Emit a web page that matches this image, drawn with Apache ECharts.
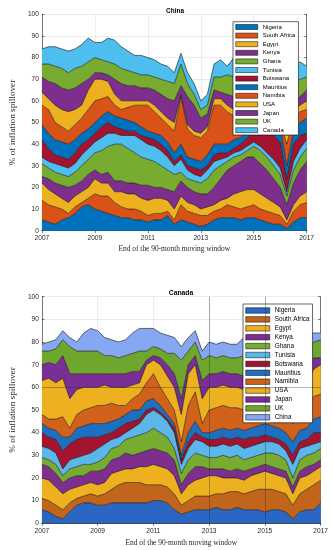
<!DOCTYPE html>
<html><head><meta charset="utf-8">
<script src="https://cdn.jsdelivr.net/npm/echarts@6/dist/echarts.min.js"></script>
<style>html,body{margin:0;padding:0;background:#fff}#c{width:333px;height:550px}</style>
</head><body><div id="c"></div>
<script>
// ---- data (quarterly end-points of the 90-month moving window) ----
const periods = [2007,2007.25,2007.5,2007.75,2008,2008.25,2008.5,2008.75,2009,2009.25,2009.5,2009.75,2010,2010.25,2010.5,2010.75,2011,2011.25,2011.5,2011.75,2012,2012.25,2012.5,2012.75,2013,2013.25,2013.5,2013.75,2014,2014.25,2014.5,2014.75,2015,2015.25,2015.5,2015.75,2016,2016.25,2016.5,2016.75,2017];
const xTickLabels = ['2007','2009','2011','2013','2015','2017'];
const yTickLabels = ['0','10','20','30','40','50','60','70','80','90','100'];

const chinaNames = ['Nigeria','South Africa','Egypt','Kenya','Ghana','Tunisia','Botswana','Mauritius','Namibia','USA','Japan','UK','Canada'];
const canadaNames = ['Nigeria','South Africa','Egypt','Kenya','Ghana','Tunisia','Botswana','Mauritius','Namibia','USA','Japan','UK','China'];

// China panel
const chinaNigeria     = [5,4,3,5,6,8,11,12,10,9,8,7,6,6,5,5,4,5,5,7,3,5,4,3,2,3,5,6,6,6,5,6,6,5,4,3,3,1,4,6,6];
const chinaSouthAfrica = [9,8,8,5,2,3,2,3,7,7,8,6,5,4,5,4,3,3,3,2,2,7,5,5,5,4,4,4,6,5,5,5,6,5,5,5,4,2,5,6,7];
const chinaEgypt       = [8,7,6,5,5,5,5,5,7,6,6,5,7,7,7,6,7,7,7,5,5,4,4,4,3,4,3,4,3,6,8,8,7,7,6,5,4,2,3,4,5];
const chinaKenya       = [3,5,5,6,7,5,5,6,4,4,5,5,5,5,5,6,7,5,5,5,8,7,7,6,7,6,8,10,13,13,14,15,15,14,13,11,9,7,10,12,14];
const chinaGhana       = [6,5,5,5,5,6,7,7,8,11,12,17,17,16,14,13,12,12,10,9,8,4,4,5,5,7,8,6,4,4,3,3,5,6,6,6,6,4,6,6,6];
const chinaTunisia     = [3,3,4,4,4,4,5,5,5,6,6,5,4,6,8,8,7,7,7,6,4,6,4,3,3,4,4,3,2,2,2,2,2,2,2,3,3,2,4,4,4];
const chinaBotswana    = [8,6,4,4,4,5,5,4,4,5,5,3,3,2,2,2,3,3,3,3,2,2,2,3,3,2,3,3,2,2,3,4,4,5,9,11,12,6,8,6,3];
const chinaMauritius   = [7,7,7,7,7,6,5,5,5,5,5,5,5,5,4,4,3,3,4,4,4,5,4,4,4,5,5,4,4,4,3,3,3,3,4,5,7,6,6,6,7];
const chinaNamibia     = [9,11,8,7,6,7,7,9,10,8,7,5,4,6,8,10,12,10,8,8,10,22,13,11,11,11,18,18,15,11,7,5,4,4,2,2,2,10,6,5,4];
const chinaUSA         = [6,5,8,8,9,7,6,9,10,9,7,5,4,3,2,2,2,3,3,3,4,1,2,2,2,2,3,3,3,3,4,4,3,3,1,1,2,4,4,3,4];
const chinaJapan       = [7,8,10,10,10,10,10,5,3,3,3,7,8,7,7,6,6,7,8,9,10,4,13,12,7,6,4,3,5,6,6,5,5,5,6,6,6,6,4,4,5];
const chinaUK          = [6,8,8,9,8,9,8,8,7,6,6,7,7,7,6,6,6,6,7,8,8,10,6,5,4,4,6,7,9,9,10,9,8,8,8,8,8,10,8,8,6];
const chinaCanada      = [7,8,9,9,10,9,10,11,7,8,11,11,10,9,8,9,8,8,7,7,5,5,5,5,4,5,6,8,4,9,9,9,10,10,10,10,10,12,9,8,5];

// Canada panel
const canadaNigeria     = [6,5,3,2,5,8,9,9,8,8,9,9,9,9,9,9,10,10,9,6,4,5,6,6,6,7,6,6,7,6,6,6,5,6,6,5,2,5,6,6,9];
const canadaSouthAfrica = [5,5,5,4,4,3,3,4,4,5,6,8,9,9,9,8,7,7,7,7,4,5,6,6,6,6,7,8,7,7,8,9,10,9,8,8,6,8,9,11,10];
const canadaEgypt       = [9,9,8,7,6,5,5,5,5,5,7,6,6,6,7,8,9,8,8,8,5,7,7,8,9,8,7,6,6,6,7,7,8,7,7,7,5,7,6,6,6];
const canadaKenya       = [6,6,6,5,5,5,4,5,6,6,6,6,7,6,6,7,7,7,7,7,4,5,6,5,3,3,4,3,4,4,3,3,3,3,3,3,3,3,4,3,3];
const canadaGhana       = [3,3,4,3,4,4,5,3,4,5,5,5,6,8,8,8,9,8,7,5,5,6,6,5,5,5,6,6,6,5,5,5,5,6,6,5,4,5,5,5,5];
const canadaTunisia     = [5,5,5,3,4,4,4,5,6,6,4,4,3,4,5,8,8,8,7,7,4,5,6,6,5,5,5,5,5,5,5,5,5,5,5,4,6,5,4,4,3];
const canadaBotswana    = [6,5,6,8,7,8,8,7,5,4,3,4,4,3,2,2,1,1,1,2,2,3,3,2,3,3,3,3,3,4,4,3,3,2,2,3,4,3,3,5,4];
const canadaMauritius   = [4,4,4,6,3,5,5,6,6,5,5,4,4,5,4,4,4,3,2,2,2,4,5,2,3,4,4,4,4,4,4,5,5,5,5,5,6,5,5,6,7];
const canadaNamibia     = [4,4,5,9,4,6,7,7,8,8,8,6,4,5,7,8,11,8,7,6,6,12,13,4,10,10,10,10,9,9,8,7,6,7,8,8,8,7,8,10,10];
const canadaUSA         = [15,18,16,17,13,11,10,9,8,9,7,8,8,6,5,8,6,10,10,10,12,14,12,11,10,9,9,9,9,9,10,10,10,10,10,10,12,10,10,12,13];
const canadaJapan       = [7,7,8,10,11,7,6,6,6,5,6,6,6,6,5,2,2,3,5,6,7,4,4,8,6,6,6,6,6,6,6,6,6,6,6,7,8,8,7,5,3];
const canadaUK          = [6,5,7,7,12,10,10,10,10,8,8,7,8,8,9,4,4,4,5,9,17,6,6,9,8,7,7,7,7,9,8,8,8,8,8,9,9,8,8,7,8];
const canadaChina       = [3,4,4,4,4,4,8,10,9,8,7,7,7,9,10,10,8,7,8,7,6,6,5,4,6,6,6,6,6,8,7,7,7,7,7,7,7,8,8,4,3];

const chinaValues = [chinaNigeria,chinaSouthAfrica,chinaEgypt,chinaKenya,chinaGhana,chinaTunisia,chinaBotswana,chinaMauritius,chinaNamibia,chinaUSA,chinaJapan,chinaUK,chinaCanada];
const canadaValues = [canadaNigeria,canadaSouthAfrica,canadaEgypt,canadaKenya,canadaGhana,canadaTunisia,canadaBotswana,canadaMauritius,canadaNamibia,canadaUSA,canadaJapan,canadaUK,canadaChina];

const chinaColors = ['#0072BD','#D95319','#EDB120','#7E2F8E','#77AC30','#4DBEEE','#A2142F','#0072BD','#D95319','#EDB120','#7E2F8E','#77AC30','#4DBEEE'];
const canadaColors = ['#2a66c4','#c2651c','#EDB120','#7E2F8E','#77AC30','#5bb6ea','#A2142F','#1f6fc0','#d0621c','#EDB120','#7a2f96','#6fa62e','#86a8f2'];

// ---- chart ----
const AX = '#262626';
const SANS = 'Liberation Sans, Arial, sans-serif';
const SERIF = 'Liberation Serif, Times New Roman, serif';
const isMajor = (i) => i % 8 === 0;
const ZW = '\u200b';

function xAxes(g, nameGap) {
  const line = {show:true, lineStyle:{color:AX, width:0.6}};
  const tick = {show:true, inside:true, length:2.5, interval:(i)=>isMajor(i), lineStyle:{color:AX, width:0.6}};
  return [{
    type:'category', gridIndex:g, data:periods.map(String), boundaryGap:false, position:'bottom',
    axisLine:line, axisTick:tick,
    axisLabel:{show:true, interval:(i)=>isMajor(i), formatter:(v)=> xTickLabels.includes(String(v)) ? String(v) : '',
      fontSize:6.6, color:AX, fontFamily:SANS, margin:4},
    splitLine:{show:true, interval:(i)=>isMajor(i), lineStyle:{color:'#d9d9d9', width:0.5}},
    name:'End of the 90-month moving window', nameLocation:'middle', nameGap:nameGap,
    nameTextStyle:{fontFamily:SERIF, fontSize:7.4, color:AX}
  },{
    type:'category', gridIndex:g, data:periods.map(String), boundaryGap:false, position:'top',
    axisLine:line, axisTick:tick, axisLabel:{show:false}, splitLine:{show:false}
  }];
}
function yAxes(g, nameGap) {
  const line = {show:true, lineStyle:{color:AX, width:0.6}};
  const tick = {show:true, inside:true, length:2.5, lineStyle:{color:AX, width:0.6}};
  return [{
    type:'value', gridIndex:g, min:0, max:100, interval:10, position:'left',
    axisLine:line, axisTick:tick,
    axisLabel:{fontSize:6.6, color:AX, fontFamily:SANS, margin:3, formatter:(v)=> yTickLabels[Math.round(v/10)]},
    splitLine:{show:true, lineStyle:{color:'#d9d9d9', width:0.5}},
    name:'% of inflation spillover', nameLocation:'middle', nameGap:nameGap, nameRotate:90,
    nameTextStyle:{fontFamily:SERIF, fontSize:9.2, color:AX}
  },{
    type:'value', gridIndex:g, min:0, max:100, interval:10, position:'right',
    axisLine:line, axisTick:tick, axisLabel:{show:false}, splitLine:{show:false}
  }];
}
function makeSeries(names, values, colors, stackId, xi, yi, suffix) {
  return names.map((n, i) => ({
    name: n + suffix, type:'line', stack:stackId, xAxisIndex:xi, yAxisIndex:yi,
    data: values[i], symbol:'none', showSymbol:false, smooth:false, color: colors[i],
    lineStyle:{color:'#000', width:0.55}, areaStyle:{color:colors[i], opacity:1},
    emphasis:{disabled:true}, silent:true
  }));
}
function makeLegend(names, colors, suffix, pos) {
  return Object.assign({
    orient:'vertical', selectedMode:false, icon:'rect',
    backgroundColor:'#fff', borderColor:'#000', borderWidth:0.6, borderRadius:0,
    data: names.map((n,i)=>({name:n+suffix, itemStyle:{color:colors[i], borderColor:'#000', borderWidth:0.5}})),
    formatter:(name)=>name.replace(ZW,'')
  }, pos);
}

const canadaSeries = makeSeries(canadaNames, canadaValues, canadaColors, 'canada', 2, 2, ZW);
// grid lines that sit above the areas in the Canada panel
canadaSeries[canadaSeries.length - 1].markLine = {
  silent:true, symbol:'none', label:{show:false}, z:20,
  lineStyle:{color:'rgba(40,40,40,0.6)', width:0.6, type:'solid'},
  data:[{xAxis:'2013'},{xAxis:'2015'},{yAxis:60}]
};

const chart = echarts.init(document.getElementById('c'), null, {renderer:'canvas'});
chart.setOption({
  animation:false,
  backgroundColor:'#fff',
  title:[
    {text:'China', left:170, top:3, textAlign:'center', textStyle:{fontSize:6.5, fontWeight:'bold', color:'#000', fontFamily:SANS}},
    {text:'Canada', left:176, top:285, textAlign:'center', textStyle:{fontSize:6.8, fontWeight:'bold', color:'#000', fontFamily:SANS}}
  ],
  grid:[
    {left:30, top:14.3, width:276.7, height:216.4},
    {left:32.3, top:296.7, width:288.4, height:226.6}
  ],
  xAxis:[...xAxes(0, 14.5), ...xAxes(1, 15.8)],
  yAxis:[...yAxes(0, 19), ...yAxes(1, 16.5)],
  legend:[
    makeLegend(chinaNames, chinaColors, '', {left:233, top:21.7, padding:[1.5,3,1,2.5], itemWidth:22, itemHeight:5, itemGap:1,
      textStyle:{fontSize:6, color:'#000', fontFamily:SANS, lineHeight:7.6}}),
    makeLegend(canadaNames, canadaColors, ZW, {left:243, top:304, padding:[2.5,3,1.5,2.5], itemWidth:24, itemHeight:5.5, itemGap:0.9,
      textStyle:{fontSize:6.4, color:'#000', fontFamily:SANS, lineHeight:8}})
  ],
  series:[
    ...makeSeries(chinaNames, chinaValues, chinaColors, 'china', 0, 0, ''),
    ...canadaSeries
  ]
});
</script>
</body></html>
